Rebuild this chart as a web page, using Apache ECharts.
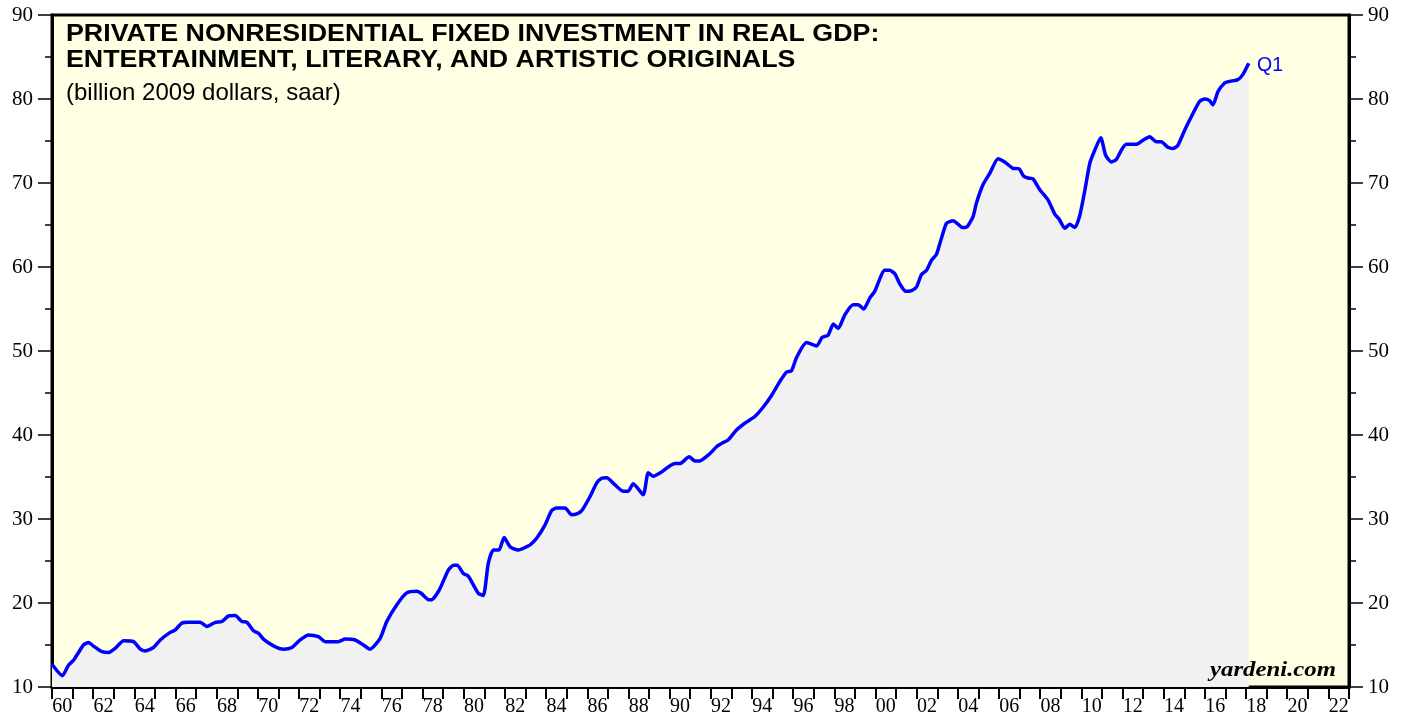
<!DOCTYPE html>
<html>
<head>
<meta charset="utf-8">
<script src="https://cdn.jsdelivr.net/npm/echarts@6/dist/echarts.min.js"></script>
<style>
  html, body { margin: 0; padding: 0; background: #fff; }
  #chart { width: 1407px; height: 719px; }
</style>
</head>
<body>
<div id="chart"></div>
<script>
// 数据：季度时间点和对应数值
const years = [
  1960.0, 1960.5, 1960.8, 1961.05, 1961.53, 1961.78, 1962.0, 1962.43, 1962.75, 1963.07,
  1963.48, 1963.96, 1964.29, 1964.53, 1964.93, 1965.26, 1965.74, 1965.99, 1966.3, 1966.63,
  1967.2, 1967.52, 1967.93, 1968.25, 1968.57, 1968.9, 1969.22, 1969.47, 1969.79, 1970.03,
  1970.27, 1970.76, 1971.24, 1971.65, 1972.05, 1972.46, 1972.94, 1973.27, 1973.91, 1974.24,
  1974.72, 1975.13, 1975.45, 1975.94, 1976.26, 1976.75, 1977.23, 1977.72, 1977.96, 1978.3,
  1978.44, 1978.8, 1979.25, 1979.5, 1979.69, 1979.98, 1980.22, 1980.71, 1980.95, 1981.19,
  1981.44, 1981.71, 1981.96, 1982.25, 1982.65, 1983.06, 1983.22, 1983.54, 1983.95, 1984.27,
  1984.51, 1984.92, 1985.24, 1985.49, 1985.73, 1986.13, 1986.46, 1986.7, 1986.94, 1987.35,
  1987.75, 1987.99, 1988.23, 1988.72, 1988.96, 1989.2, 1989.61, 1989.93, 1990.26, 1990.5,
  1990.95, 1991.23, 1991.44, 1991.96, 1992.28, 1992.6, 1992.84, 1993.25, 1993.65, 1994.14,
  1994.54, 1994.95, 1995.35, 1995.68, 1995.92, 1996.17, 1996.65, 1997.14, 1997.4, 1997.7,
  1997.95, 1998.19, 1998.51, 1998.91, 1999.16, 1999.43, 1999.72, 1999.96, 2000.45, 2000.69,
  2000.94, 2001.18, 2001.47, 2001.75, 2001.99, 2002.23, 2002.48, 2002.72, 2002.96, 2003.2,
  2003.45, 2003.77, 2004.01, 2004.22, 2004.45, 2004.74, 2004.9, 2005.22, 2005.55, 2005.95,
  2006.28, 2006.68, 2006.97, 2007.2, 2007.41, 2007.65, 2007.98, 2008.38, 2008.71, 2008.92,
  2009.2, 2009.43, 2009.68, 2009.92, 2010.16, 2010.41, 2010.65, 2010.94, 2011.18, 2011.46,
  2011.7, 2011.94, 2012.18, 2012.67, 2012.99, 2013.32, 2013.64, 2013.88, 2014.2, 2014.45,
  2014.69, 2015.0, 2015.26, 2015.74, 2015.99, 2016.23, 2016.39, 2016.64, 2016.96, 2017.2,
  2017.6, 2017.84, 2018.13
];
const values = [
  12.7, 11.35, 12.6, 13.2, 15.0, 15.3, 14.9, 14.2, 14.1, 14.6,
  15.5, 15.4, 14.5, 14.3, 14.7, 15.6, 16.5, 16.8, 17.6, 17.7,
  17.7, 17.2, 17.7, 17.8, 18.45, 18.5, 17.8, 17.7, 16.7, 16.4,
  15.7, 14.9, 14.5, 14.7, 15.6, 16.2, 16.0, 15.4, 15.4, 15.7,
  15.6, 15.0, 14.5, 15.8, 17.8, 19.8, 21.2, 21.4, 21.1, 20.4,
  20.4, 21.5, 23.9, 24.5, 24.5, 23.5, 23.2, 21.15, 20.9, 24.7,
  26.3, 26.3, 27.8, 26.7, 26.3, 26.7, 26.9, 27.7, 29.3, 31.0,
  31.3, 31.3, 30.5, 30.6, 31.0, 32.65, 34.3, 34.85, 34.9, 34.05,
  33.3, 33.3, 34.2, 32.9, 35.5, 35.1, 35.6, 36.2, 36.6, 36.6,
  37.4, 36.9, 36.9, 37.8, 38.6, 39.1, 39.4, 40.6, 41.4, 42.2,
  43.3, 44.7, 46.35, 47.5, 47.65, 49.25, 51.0, 50.6, 51.6, 51.9,
  53.2, 52.7, 54.3, 55.5, 55.5, 55.0, 56.3, 57.1, 59.6, 59.6,
  59.2, 58.0, 57.1, 57.2, 57.6, 59.1, 59.6, 60.8, 61.5, 63.4,
  65.2, 65.5, 65.1, 64.7, 64.8, 66.0, 67.6, 69.8, 71.15, 72.9,
  72.5, 71.75, 71.7, 70.8, 70.6, 70.5, 69.2, 68.0, 66.3, 65.7,
  64.6, 65.1, 64.7, 66.1, 69.0, 72.35, 73.9, 75.4, 73.3, 72.5,
  72.8, 73.9, 74.6, 74.6, 75.1, 75.5, 74.9, 74.9, 74.25, 74.1,
  74.5, 76.2, 77.5, 79.7, 80.0, 79.8, 79.3, 80.9, 81.9, 82.1,
  82.3, 82.9, 84.25
];

// x轴年份标签（每年一个刻度，隔年显示）
const yearLabels = [];
for (let y = 1960; y <= 2022; y++) {
    yearLabels.push(String(y).slice(2));
}

const titleLine1 = "PRIVATE NONRESIDENTIAL FIXED INVESTMENT IN REAL GDP:";
const titleLine2 = "ENTERTAINMENT, LITERARY, AND ARTISTIC ORIGINALS";
const subTitle = "(billion 2009 dollars, saar)";
const lastLabel = "Q1";
const source = "yardeni.com";

let chart = echarts.init(document.getElementById("chart"));

let seriesData = years.map((y, i) => [y, values[i]]);

let yAxisCommon = {
    type: "value",
    min: 10,
    max: 90,
    interval: 10,
    axisLine: { show: true, lineStyle: { color: "#000", width: 3 } },
    axisTick: { show: true, inside: false, length: 14, lineStyle: { color: "#000", width: 1.5 } },
    minorTick: { show: true, splitNumber: 2, length: 7, lineStyle: { color: "#000", width: 1.5 } },
    splitLine: { show: false },
    axisLabel: { color: "#000", fontSize: 21, fontFamily: "Liberation Serif", margin: 19 }
};

//文字（graphic）
function makeText(str, x, y, font, color, sx) {
    return {
        type: "text",
        x: x,
        y: y,
        scaleX: sx || 1,
        z: 100,
        style: { text: str, x: 0, y: 0, font: font, fill: color, verticalAlign: "middle", align: "left" }
    };
}

let option = {
    animation: false,
    backgroundColor: "#fff",
    grid: {
        left: 52, right: 58, top: 15, bottom: 32,
        show: true,
        backgroundColor: "#ffffe3",
        borderColor: "#000",
        borderWidth: 3
    },
    xAxis: [
        {
            type: "category",
            data: yearLabels,
            boundaryGap: true,
            position: "bottom",
            axisLine: { show: true, lineStyle: { color: "#000", width: 3 } },
            axisTick: { show: true, interval: 0, length: 12, lineStyle: { color: "#000", width: 2 } },
            axisLabel: { interval: 1, color: "#000", fontSize: 20, fontFamily: "Liberation Serif", margin: 10 },
            splitLine: { show: false }
        },
        {
            type: "value",
            min: 1960,
            max: 2023,
            show: false
        }
    ],
    yAxis: [
        Object.assign({}, yAxisCommon, { position: "left" }),
        Object.assign({}, yAxisCommon, { position: "right" })
    ],
    series: [
        {
            type: "line",
            xAxisIndex: 1,
            yAxisIndex: 0,
            data: seriesData,
            symbol: "none",
            smooth: 0.2,
            lineStyle: { color: "#0000ff", width: 3.5 },
            areaStyle: { color: "#f1f1f1", opacity: 1, origin: "start" },
            z: 3
        }
    ],
    graphic: [
        makeText(titleLine1, 66, 35, "bold 23px 'Liberation Sans'", "#000", 1.165),
        makeText(titleLine2, 66, 60.5, "bold 23px 'Liberation Sans'", "#000", 1.165),
        makeText(subTitle, 66, 93, "24px 'Liberation Sans'", "#000"),
        makeText(lastLabel, 1257, 65.5, "19.5px 'Liberation Sans'", "#0000ff"),
        makeText(source, 1210, 671, "italic bold 20px 'Liberation Serif'", "#000", 1.24)
    ]
};

chart.setOption(option);
</script>
</body>
</html>
